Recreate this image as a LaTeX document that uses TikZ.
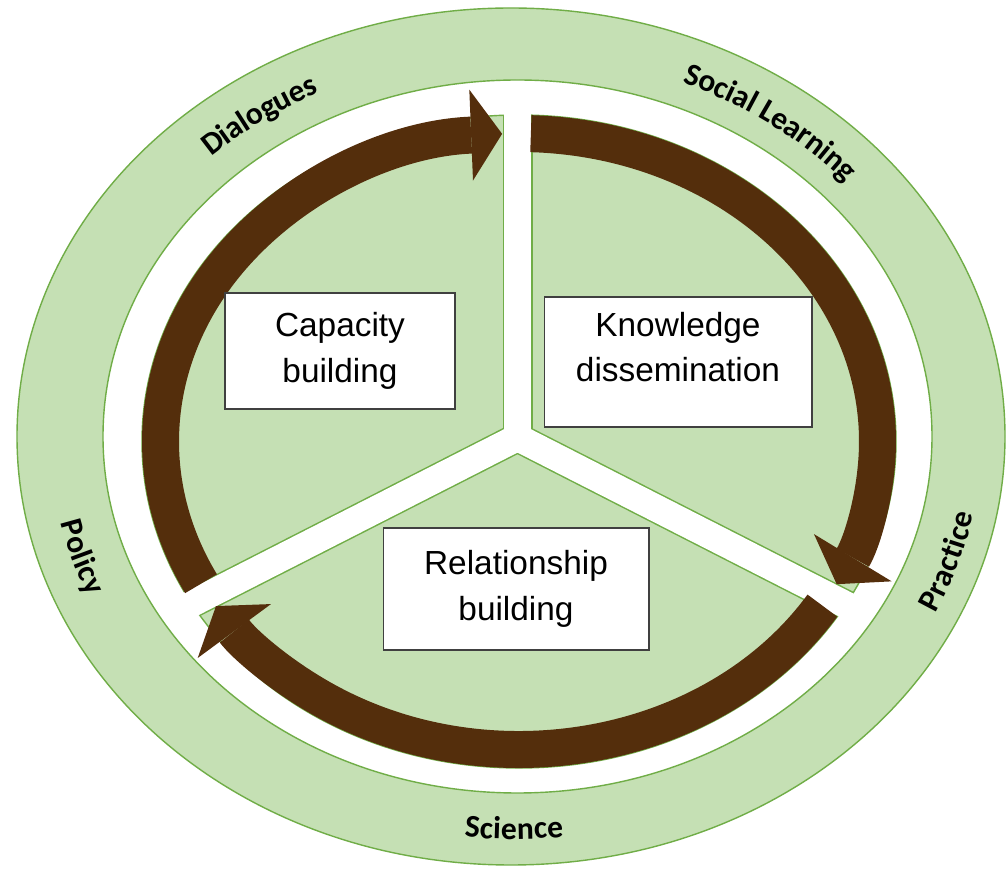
\documentclass[tikz,border=0pt]{standalone}
\usepackage{fontspec}
\setmainfont{Liberation Sans}
\newfontfamily\bandfont{Carlito}
\usepackage{tikz}
\usetikzlibrary{calc}
\usetikzlibrary{arrows.meta}
\usetikzlibrary{decorations.text}
\definecolor{leafgreen}{RGB}{197,224,180}
\definecolor{rimgreen}{RGB}{112,173,71}
\definecolor{barkbrown}{RGB}{84,46,12}
\newcommand{\bandstyle}{\bandfont\bfseries\fontsize{18}{21}\selectfont}
\tikzstyle{ringfill} = [fill=leafgreen, draw=rimgreen, line width=0.8pt]
\tikzstyle{gapedge} = [draw=rimgreen, line width=0.60cm]
\tikzstyle{gapcut} = [draw=white, line width=0.54cm]
\tikzstyle{cyclearrow} = [draw=barkbrown, line width=0.74cm, -{Triangle[width=1.82cm, length=0.62cm, line width=0pt]}]
\tikzstyle{labelbox} = [draw=black!75, line width=0.6pt, fill=white, inner sep=0pt]
\tikzstyle{boxtext} = [align=center, inner sep=0pt, font=\fontsize{19}{26}\selectfont]
\tikzstyle{bandlabel} = [decorate, decoration={text along path, text align=center, raise=-5.8pt}]

\begin{document}
\begin{tikzpicture}[x=0.02cm, y=0.02cm]
  \useasboundingbox (0,0) rectangle (1008,869);
  \fill[white] (0,0) rectangle (1008,869);
  \coordinate (outer) at (511,432.5);
  \coordinate (ring) at (517.5,432.5);
  \coordinate (band) at (514,432.5);
  \coordinate (disc) at (519,427.5);
  \coordinate (hub) at (517.5,431.5);

  \draw[ringfill] (outer) ellipse [x radius=494, y radius=428.5];
  \draw[ringfill, fill=white] (ring) ellipse [x radius=414.5, y radius=356.5];
  \draw[ringfill] (disc) ellipse [x radius=377, y radius=326.5];

  \begin{scope}
    \clip (disc) ellipse [x radius=377, y radius=326.5];
    \draw[gapedge] (hub) -- ++(90:450);
    \draw[gapedge] ($(hub)+(207:500)$) -- (hub) -- ++(333:500);
  \end{scope}
  \begin{scope}
    \clip (disc) ellipse [x radius=385, y radius=335];
    \draw[gapcut] (hub) -- ++(90:450);
    \draw[gapcut] ($(hub)+(207:500)$) -- (hub) -- ++(333:500);
  \end{scope}

  \draw[cyclearrow] ([shift={(207.5:358.5 and 308)}]disc) arc [start angle=207.5, end angle=92.7, x radius=358.5, y radius=308];
  \draw[cyclearrow] ([shift={(88.1:358.5 and 308)}]disc) arc [start angle=88.1, end angle=-27.6, x radius=358.5, y radius=308];
  \draw[cyclearrow] ([shift={(-32.2:358.5 and 308)}]disc) arc [start angle=-32.2, end angle=-147.7, x radius=358.5, y radius=308];

  \node[labelbox, minimum width=4.6cm, minimum height=2.32cm] (capacity) at (340,518) {};
  \node[labelbox, minimum width=5.36cm, minimum height=2.6cm] (knowledge) at (678,507) {};
  \node[labelbox, minimum width=5.32cm, minimum height=2.44cm] (relation) at (516,280) {};
  \node[boxtext] (capacitytext) at (capacity) {Capacity\\building};
  \node[boxtext] (knowledgetext) at ([yshift=0.3cm]knowledge.center) {Knowledge\\dissemination};
  \node[boxtext] (relationtext) at (relation) {Relationship\\building};

  \path[bandlabel, decoration={text={|\bandstyle|Dialogues}}] ([shift={(150:454 and 392.5)}]band) arc [start angle=150, end angle=100, x radius=454, y radius=392.5];
  \path[bandlabel, decoration={text={|\bandstyle|Social Learning}}] ([shift={(84:454 and 392.5)}]band) arc [start angle=84, end angle=24, x radius=454, y radius=392.5];
  \path[bandlabel, decoration={text={|\bandstyle|Policy}}] ([shift={(175:454 and 392.5)}]band) arc [start angle=175, end angle=220, x radius=454, y radius=392.5];
  \path[bandlabel, decoration={text={|\bandstyle|Practice}}] ([shift={(-40:458 and 396.5)}]band) arc [start angle=-40, end angle=4, x radius=458, y radius=396.5];
  \path[bandlabel, decoration={text={|\bandstyle|Science}}] ([shift={(245:454 and 392.5)}]band) arc [start angle=245, end angle=295, x radius=454, y radius=392.5];
\end{tikzpicture}
\end{document}
